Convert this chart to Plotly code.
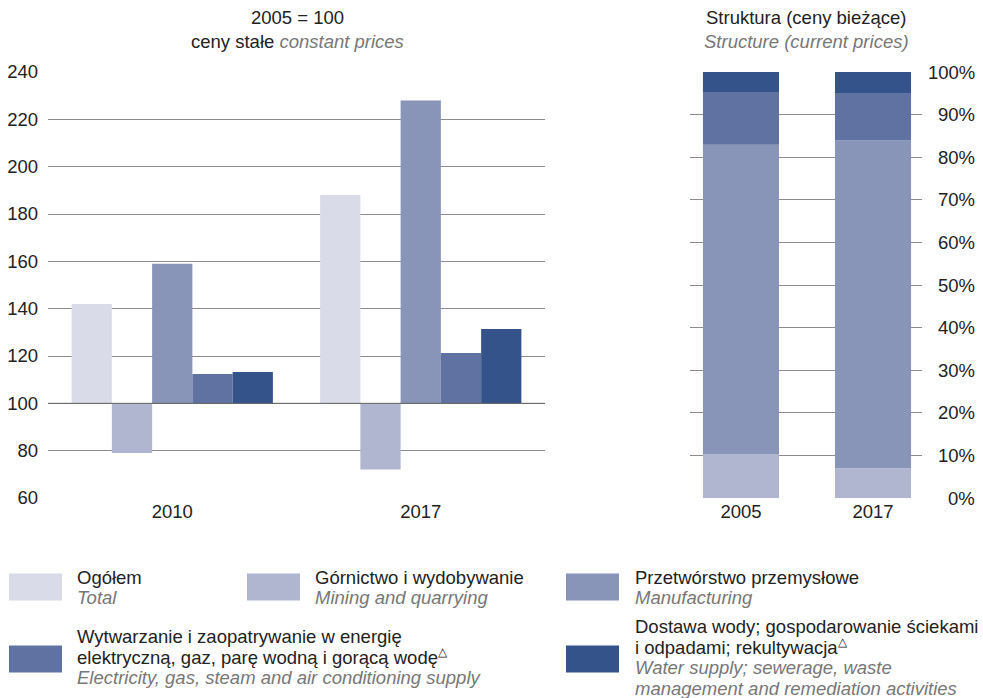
import plotly.graph_objects as go

# Figure size (px) - used to place things in paper coordinates
W, H = 983, 698

# Data
years_idx = ["2010", "2017"]
years_str = ["2005", "2017"]

# 2005 = 100, constant prices
total = [142, 188]
mining = [79, 72]
manuf = [159, 228]
energy = [112.4, 121.3]
water = [113.2, 131.4]
base_idx = 100

# structure, current prices (%)
s_mining = [10.3, 7.0]
s_manuf = [72.6, 76.9]
s_energy = [12.4, 11.0]
s_water = [4.7, 5.1]

pct_vals = [0, 10, 20, 30, 40, 50, 60, 70, 80, 90, 100]
pct_text = ["0%", "10%", "20%", "30%", "40%", "50%", "60%", "70%", "80%", "90%", "100%"]

SUP = "<sup><span style='font-size:12px'>△</span></sup>"
names_pl = [
    "Ogółem",
    "Górnictwo i wydobywanie",
    "Przetwórstwo przemysłowe",
    "Wytwarzanie i zaopatrywanie w energię<br>elektryczną, gaz, parę wodną i gorącą wodę" + SUP,
    "Dostawa wody; gospodarowanie ściekami<br>i odpadami; rekultywacja" + SUP,
]
names_en = [
    "Total",
    "Mining and quarrying",
    "Manufacturing",
    "Electricity, gas, steam and air conditioning supply",
    "Water supply; sewerage, waste<br>management and remediation activities",
]
colors = ["#d9dbe8", "#b0b5d0", "#8894b8", "#5f72a1", "#34538b"]

FONT = "Liberation Sans, Arial, sans-serif"
FS = 18.5
DARK = "#222222"
GREY = "#777777"
GRID = "#8c8c8c"


def px(x):
    return x / W


def py(y):
    return 1 - y / H


fig = go.Figure()

# Left chart: index bars drawn from the 100 base
for vals, col, name in zip([total, mining, manuf, energy, water], colors, names_en):
    fig.add_trace(
        go.Bar(
            x=years_idx,
            y=[v - base_idx for v in vals],
            base=base_idx,
            marker=dict(color=col, line=dict(width=0)),
            name=name,
            xaxis="x",
            yaxis="y",
        )
    )

# Right chart: stacked structure with explicit bases
bottom = [0, 0]
for vals, col, name in zip([s_mining, s_manuf, s_energy, s_water], colors[1:], names_en[1:]):
    fig.add_trace(
        go.Bar(
            x=years_str,
            y=vals,
            base=list(bottom),
            width=0.576,
            offsetgroup="s",
            marker=dict(color=col, line=dict(width=0)),
            name=name,
            xaxis="x2",
            yaxis="y2",
        )
    )
    bottom = [b + v for b, v in zip(bottom, vals)]

ydom = [py(498), py(72)]

fig.update_layout(
    width=W,
    height=H,
    margin=dict(l=0, r=0, t=0, b=0, autoexpand=False),
    paper_bgcolor="white",
    plot_bgcolor="white",
    showlegend=False,
    barmode="group",
    bargap=0.19,
    bargroupgap=0,
    font=dict(family=FONT, size=FS, color=DARK),
    xaxis=dict(
        domain=[px(48), px(545)],
        type="category",
        anchor="y",
        automargin=False,
        showgrid=False,
        showline=False,
        ticks="",
        tickfont=dict(size=FS, color=DARK),
    ),
    yaxis=dict(
        domain=ydom,
        anchor="x",
        automargin=False,
        range=[60, 240],
        dtick=20,
        showgrid=True,
        gridcolor=GRID,
        gridwidth=1,
        zeroline=False,
        showline=False,
        ticks="",
        ticklabelstandoff=9,
        tickfont=dict(size=FS, color=DARK),
    ),
    xaxis2=dict(
        domain=[px(690), px(922)],
        type="category",
        anchor="y2",
        automargin=False,
        range=[-0.386, 1.371],
        showgrid=False,
        showline=False,
        ticks="",
        tickfont=dict(size=FS, color=DARK),
    ),
    yaxis2=dict(
        domain=ydom,
        anchor="x2",
        automargin=False,
        range=[0, 100],
        tickvals=pct_vals,
        showticklabels=False,
        showgrid=True,
        gridcolor=GRID,
        gridwidth=1,
        zeroline=False,
        showline=False,
        ticks="",
    ),
)

# darker base line at 100
fig.add_shape(
    type="line",
    xref="x domain",
    yref="y",
    x0=0,
    x1=1,
    y0=base_idx,
    y1=base_idx,
    line=dict(color="#666666", width=1),
    layer="above",
)

# right-aligned percent labels
for v, t in zip(pct_vals, pct_text):
    fig.add_annotation(
        x=px(977), xref="paper", xanchor="right",
        y=v, yref="y2", yanchor="middle",
        text=t, showarrow=False, font=dict(size=FS, color=DARK),
    )


def text_line(x, y, t, anchor="left"):
    fig.add_annotation(
        x=px(x), y=py(y), xref="paper", yref="paper",
        xanchor=anchor, yanchor="middle",
        text=t, showarrow=False, font=dict(size=FS, color=DARK),
    )


def grey(t):
    return "<span style='color:%s'><i>%s</i></span>" % (GREY, t)


# titles
text_line(297, 18, "2005 = 100", "center")
text_line(297, 42, "ceny stałe " + grey("constant prices"), "center")
text_line(806, 18, "Struktura (ceny bieżące)", "center")
text_line(806, 42, grey("Structure (current prices)"), "center")

# legend drawn by hand: swatch x, swatch centre y, text x, first line y
legend_pos = [(9, 587, 75, 577), (247, 587, 313, 577), (566, 587, 633, 577),
              (9, 659, 75, 636), (566, 659, 633, 626)]
LINE = 20.7
for (sx, cy, tx, ty), col, pl, en in zip(legend_pos, colors, names_pl, names_en):
    fig.add_shape(
        type="rect", xref="paper", yref="paper",
        x0=px(sx), x1=px(sx + 53), y0=py(cy - 13.5), y1=py(cy + 13.5),
        fillcolor=col, line=dict(width=0),
    )
    lines = pl.split("<br>") + [grey(t) for t in en.split("<br>")]
    for i, ln in enumerate(lines):
        text_line(tx, ty + i * LINE, ln)

fig.write_html(
    "out.html",
    config={"displayModeBar": False},
    post_script="document.body.style.margin='0';",
)
